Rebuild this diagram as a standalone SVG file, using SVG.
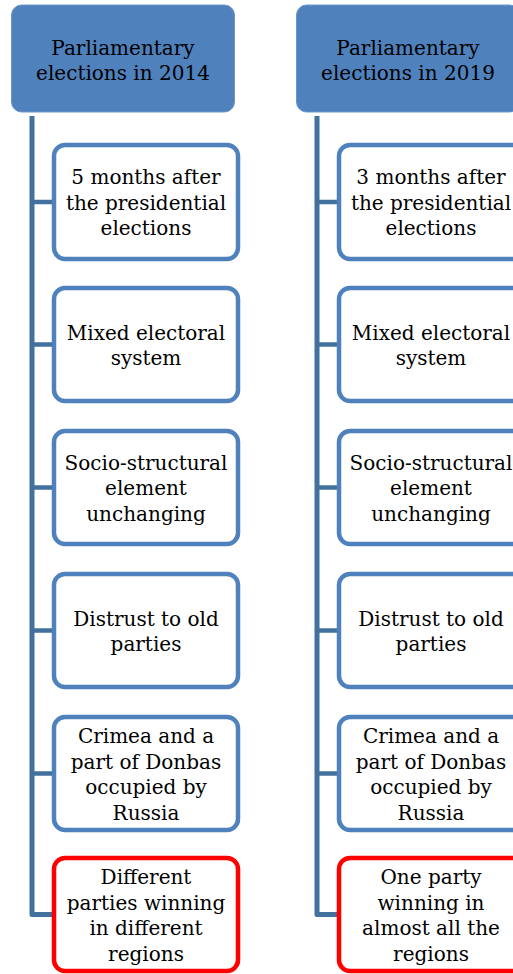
<svg xmlns="http://www.w3.org/2000/svg" width="513" height="974" viewBox="0 0 513 974">
<style>
.hdr{fill:#4F81BD;stroke:#6D96C8;stroke-width:1}
.box{fill:#FFFFFF;stroke:#4F81BD;stroke-width:4.5}
.red{fill:#FFFFFF;stroke:#FF0000;stroke-width:4.5}
.conn{fill:none;stroke:#41719C;stroke-width:5;stroke-linejoin:round}
.br{fill:none;stroke:#41719C;stroke-width:4.5}
text{font-family:"DejaVu Serif","Liberation Serif",serif;font-size:20px;fill:#000;text-anchor:middle}
</style>
<rect width="513" height="974" fill="#FFFFFF"/>
<g id="connectors">
<path class="conn" d="M32,116 V914.5 H54"/>
<path class="br" d="M32,202 H54 M32,344.5 H54 M32,487.5 H54 M32,630.5 H54 M32,773.5 H54"/>
<path class="conn" d="M317,116 V914.5 H339"/>
<path class="br" d="M317,202 H339 M317,344.5 H339 M317,487.5 H339 M317,630.5 H339 M317,773.5 H339"/>
</g>
<g id="h2014"><rect class="hdr" x="11.5" y="5" width="223" height="107" rx="10"/>
<text x="123" y="55">Parliamentary</text><text x="123" y="80">elections in 2014</text></g>
<g id="h2019"><rect class="hdr" x="296.5" y="5" width="223" height="107" rx="10"/>
<text x="408" y="55">Parliamentary</text><text x="408" y="80">elections in 2019</text></g>

<g id="l1"><rect class="box" x="54" y="145" width="184" height="114" rx="11"/>
<text x="146" y="184">5 months after</text><text x="146" y="209.5">the presidential</text><text x="146" y="235">elections</text></g>
<g id="l2"><rect class="box" x="54" y="288" width="184" height="113" rx="11"/>
<text x="146" y="339.5">Mixed electoral</text><text x="146" y="365">system</text></g>
<g id="l3"><rect class="box" x="54" y="431" width="184" height="113" rx="11"/>
<text x="146" y="469.5">Socio-structural</text><text x="146" y="495">element</text><text x="146" y="520.5">unchanging</text></g>
<g id="l4"><rect class="box" x="54" y="574" width="184" height="113" rx="11"/>
<text x="146" y="625.5">Distrust to old</text><text x="146" y="651">parties</text></g>
<g id="l5"><rect class="box" x="54" y="717" width="184" height="113" rx="11"/>
<text x="146" y="743">Crimea and a</text><text x="146" y="768.5">part of Donbas</text><text x="146" y="794">occupied by</text><text x="146" y="819.5">Russia</text></g>
<g id="l6"><rect class="red" x="54" y="858" width="184" height="113" rx="11"/>
<text x="146" y="884">Different</text><text x="146" y="909.5">parties winning</text><text x="146" y="935">in different</text><text x="146" y="960.5">regions</text></g>

<g id="r1"><rect class="box" x="339" y="145" width="184" height="114" rx="11"/>
<text x="431" y="184">3 months after</text><text x="431" y="209.5">the presidential</text><text x="431" y="235">elections</text></g>
<g id="r2"><rect class="box" x="339" y="288" width="184" height="113" rx="11"/>
<text x="431" y="339.5">Mixed electoral</text><text x="431" y="365">system</text></g>
<g id="r3"><rect class="box" x="339" y="431" width="184" height="113" rx="11"/>
<text x="431" y="469.5">Socio-structural</text><text x="431" y="495">element</text><text x="431" y="520.5">unchanging</text></g>
<g id="r4"><rect class="box" x="339" y="574" width="184" height="113" rx="11"/>
<text x="431" y="625.5">Distrust to old</text><text x="431" y="651">parties</text></g>
<g id="r5"><rect class="box" x="339" y="717" width="184" height="113" rx="11"/>
<text x="431" y="743">Crimea and a</text><text x="431" y="768.5">part of Donbas</text><text x="431" y="794">occupied by</text><text x="431" y="819.5">Russia</text></g>
<g id="r6"><rect class="red" x="339" y="858" width="184" height="113" rx="11"/>
<text x="431" y="884">One party</text><text x="431" y="909.5">winning in</text><text x="431" y="935">almost all the</text><text x="431" y="960.5">regions</text></g>
</svg>
